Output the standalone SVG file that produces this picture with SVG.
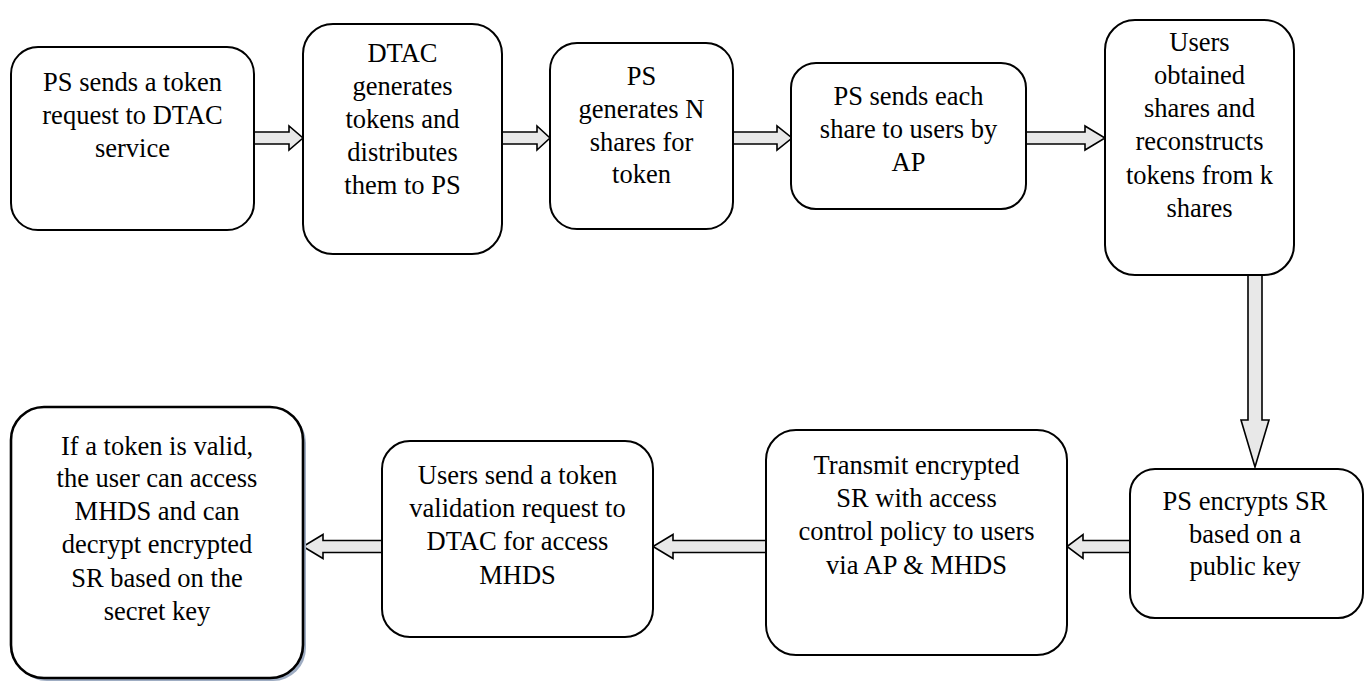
<svg xmlns="http://www.w3.org/2000/svg" width="1364" height="683" viewBox="0 0 1364 683">
  <style>
    .box { fill: #ffffff; stroke: #000000; stroke-width: 2; }
    .box-strong { fill: #ffffff; stroke: #000000; stroke-width: 2.6; }
    .shadow { fill: #9fadc3; stroke: none; }
    .label { font-size: 26.5px; fill: #000000; text-anchor: middle; }
    .arrow { fill: #e8e8e8; stroke: #000000; stroke-width: 1.6; stroke-linejoin: miter; }
  </style>
  <rect width="1364" height="683" fill="#ffffff"/>

  <!-- connectors: block arrows between steps -->
  <g id="connectors">
    <path class="arrow" d="M254,132 H289 V126 L303,138 L289,150 V144 H254 Z"/>
    <path class="arrow" d="M502,132 H537 V126 L550,138 L537,150 V144 H502 Z"/>
    <path class="arrow" d="M733,132 H777 V126 L792,138 L777,150 V144 H733 Z"/>
    <path class="arrow" d="M1026,132 H1085 V126 L1105,138 L1085,150 V144 H1026 Z"/>
    <path class="arrow" d="M1248,275 V420 H1241 L1255,467 L1269,420 H1262 V275 Z"/>
    <path class="arrow" d="M1130,540.5 H1083 V534.5 L1067,546.5 L1083,558.5 V552.5 H1130 Z"/>
    <path class="arrow" d="M766,540.5 H673 V534.5 L653,546.5 L673,558.5 V552.5 H766 Z"/>
    <path class="arrow" d="M382,540.5 H323 V534.5 L303,546.5 L323,558.5 V552.5 H382 Z"/>
  </g>

  <g font-family="Liberation Serif, Times New Roman, Tinos, DejaVu Serif, serif">
  <g id="step1">
    <rect class="box" x="11" y="47" width="243" height="183" rx="27" ry="27"/>
    <text class="label"><tspan x="132.5" y="91">PS sends a token</tspan><tspan x="132.5" y="124">request to DTAC</tspan><tspan x="132.5" y="157">service</tspan></text>
  </g>

  <g id="step2">
    <rect class="box" x="303" y="24" width="199" height="230" rx="30" ry="30"/>
    <text class="label"><tspan x="402.5" y="62">DTAC</tspan><tspan x="402.5" y="95">generates</tspan><tspan x="402.5" y="128">tokens and</tspan><tspan x="402.5" y="161">distributes</tspan><tspan x="402.5" y="194">them to PS</tspan></text>
  </g>

  <g id="step3">
    <rect class="box" x="550" y="43" width="183" height="186" rx="27" ry="27"/>
    <text class="label"><tspan x="641.5" y="85">PS</tspan><tspan x="641.5" y="118">generates N</tspan><tspan x="641.5" y="151">shares for</tspan><tspan x="641.5" y="183">token</tspan></text>
  </g>

  <g id="step4">
    <rect class="box" x="791" y="63" width="235" height="146" rx="25" ry="25"/>
    <text class="label"><tspan x="908.5" y="105">PS sends each</tspan><tspan x="908.5" y="138">share to users by</tspan><tspan x="908.5" y="171">AP</tspan></text>
  </g>

  <g id="step5">
    <rect class="box" x="1105" y="20" width="189" height="255" rx="30" ry="30"/>
    <text class="label"><tspan x="1199.5" y="51">Users</tspan><tspan x="1199.5" y="84">obtained</tspan><tspan x="1199.5" y="117">shares and</tspan><tspan x="1199.5" y="150">reconstructs</tspan><tspan x="1199.5" y="184">tokens from k</tspan><tspan x="1199.5" y="217">shares</tspan></text>
  </g>

  <g id="step6">
    <rect class="box" x="1130" y="469" width="233" height="149" rx="25" ry="25"/>
    <text class="label"><tspan x="1245" y="510">PS encrypts SR</tspan><tspan x="1245" y="543">based on a</tspan><tspan x="1245" y="575">public key</tspan></text>
  </g>

  <g id="step7">
    <rect class="box" x="766" y="430" width="301" height="225" rx="30" ry="30"/>
    <text class="label"><tspan x="916.5" y="474">Transmit encrypted</tspan><tspan x="916.5" y="507">SR with access</tspan><tspan x="916.5" y="540">control policy to users</tspan><tspan x="916.5" y="574">via AP &amp; MHDS</tspan></text>
  </g>

  <g id="step8">
    <rect class="box" x="382" y="441" width="271" height="196" rx="28" ry="28"/>
    <text class="label"><tspan x="517.5" y="484">Users send a token</tspan><tspan x="517.5" y="517">validation request to</tspan><tspan x="517.5" y="550">DTAC for access</tspan><tspan x="517.5" y="584">MHDS</tspan></text>
  </g>

  <g id="step9">
    <rect class="shadow" x="14" y="410" width="292" height="271" rx="33" ry="33"/>
    <rect class="box-strong" x="11" y="407" width="292" height="271" rx="33" ry="33"/>
    <text class="label"><tspan x="157" y="455">If a token is valid,</tspan><tspan x="157" y="487">the user can access</tspan><tspan x="157" y="520">MHDS and can</tspan><tspan x="157" y="553">decrypt encrypted</tspan><tspan x="157" y="587">SR based on the</tspan><tspan x="157" y="620">secret key</tspan></text>
  </g>
  </g>
</svg>
